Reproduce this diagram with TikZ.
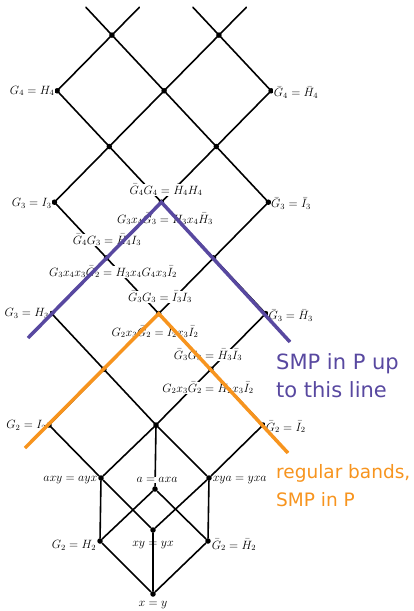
\documentclass[tikz,border=0pt]{standalone}
\usepackage{fontspec}
\newfontfamily\dejavu{DejaVu Sans}
\usetikzlibrary{calc}
\definecolor{smppurple}{RGB}{88,72,160}
\definecolor{smporange}{RGB}{247,148,30}
\begin{document}
\begin{tikzpicture}[x=1pt,y=-1pt,
  lat/.style={line width=1.6pt,line cap=round},
  dotn/.style={circle,fill=black,inner sep=0pt,minimum size=5.5pt},
  lab/.style={fill=white,inner sep=0.6pt,font=\fontsize{12}{14}\selectfont},
  labn/.style={inner sep=0.6pt,font=\fontsize{12}{14}\selectfont},
  band/.style={line width=3.5pt},
  note/.style={inner sep=0pt,align=left,font=\dejavu\fontsize{21}{28}\selectfont},
  noteb/.style={inner sep=0pt,align=left,font=\dejavu\fontsize{18.5}{28}\selectfont},
]
\useasboundingbox (0,0) rectangle (413,611);
% lattice grid coordinates
\foreach \i in {0,...,4}{
  \foreach \L in {0,...,8}{
    \coordinate (p\i\L) at ({156+53.5*(\i-2)+1.35*\L},{425-55.7*\L});
  }
}
% lattice edges
\foreach \i in {0,...,4}{
  \foreach \L in {0,...,6}{
    \pgfmathtruncatemacro\pp{mod(\i+\L,2)}
    \pgfmathtruncatemacro\nL{\L+1}
    \pgfmathtruncatemacro\nr{\i+1}
    \pgfmathtruncatemacro\nl{\i-1}
    \ifnum\pp=0
      \ifnum\i<4 \draw[lat] (p\i\L) -- (p\nr\nL); \fi
      \ifnum\i>0 \draw[lat] (p\i\L) -- (p\nl\nL); \fi
    \fi
  }
}
% stubs leaving the top
\coordinate (s1l) at ($(p17)!0.5!(p08)$);
\coordinate (s1r) at ($(p17)!0.5!(p28)$);
\coordinate (s3l) at ($(p37)!0.5!(p28)$);
\coordinate (s3r) at ($(p37)!0.5!(p48)$);
\draw[lat] (p17) -- (s1l) (p17) -- (s1r) (p37) -- (s3l) (p37) -- (s3r);
% bottom part
\node[dotn] (triv) at (153,594) {};
\node[dotn] (lz) at (100,541) {};
\node[dotn] (rz) at (208,541) {};
\node[dotn] (sl) at (153,530) {};
\node[dotn] (rb) at (155,489) {};
\node[dotn] (lnb) at (101,478) {};
\node[dotn] (rnb) at (209,478) {};
\draw[lat] (triv) -- (lz) (triv) -- (rz) (triv) -- (sl)
  (lz) -- (lnb) (lz) -- (rb) (rz) -- (rnb) (rz) -- (rb)
  (lnb) -- (sl) (rnb) -- (sl)
  (lnb) -- (p00) (lnb) -- (p20) (rnb) -- (p20) (rnb) -- (p40) (rb) -- (p20);
% dots on grid
\foreach \i/\L in {0/0,2/0,4/0,1/1,3/1,0/2,2/2,4/2,1/3,3/3,0/4,2/4,4/4,1/5,3/5,0/6,2/6,4/6,1/7,3/7}{
  \node[dotn] (d\i\L) at (p\i\L) {};
}
% labels
\node[lab,anchor=east] (l1) at ($(p06)+(-2,0)$) {$G_4 = H_4$};
\node[lab,anchor=west] (l2) at ($(p46)+(2,2)$) {$\bar G_4 = \bar H_4$};
\node[lab] (l3) at (166,190) {$\bar G_4G_4 = \bar H_4H_4$};
\node[lab,anchor=east] (l4) at ($(p04)+(-2,1)$) {$G_3 = I_3$};
\node[lab,anchor=west] (l5) at ($(p44)+(2,1)$) {$\bar G_3 = \bar I_3$};
\node[lab] (l6) at (165,219) {$G_3x_4\bar G_3 = H_3x_4\bar H_3$};
\node[lab] (l7) at (107,240) {$\bar G_4G_3 = \bar H_4I_3$};
\node[lab] (l8) at (113,272) {$G_3x_4x_3\bar G_2 = H_3x_4G_4x_3\bar I_2$};
\node[lab] (l9) at (160,297) {$\bar G_3G_3 = \bar I_3I_3$};
\node[lab,anchor=east] (l10) at ($(p02)+(-2,0)$) {$G_3 = H_3$};
\node[lab,anchor=west] (l11) at ($(p42)+(2,2)$) {$\bar G_3 = \bar H_3$};
\node[lab] (l12) at (155,332) {$G_2x_3\bar G_2 = I_2x_3\bar I_2$};
\node[lab] (l13) at (208,355) {$\bar G_3G_3 = \bar H_3\bar I_3$};
\node[lab] (l14) at (208,388) {$G_2x_3\bar G_2 = H_2x_3\bar I_2$};
\node[lab,anchor=east] (l15) at ($(p00)+(-2,0)$) {$G_2 = I_2$};
\node[lab,anchor=west] (l16) at ($(p40)+(2,2)$) {$\bar G_2 = \bar I_2$};
\node[lab,anchor=east] (l17) at ($(lnb)+(-3,2)$) {$axy = ayx$};
\node[lab] (l18) at (157,480) {$a = axa$};
\node[lab,anchor=west] (l19) at ($(rnb)+(3,2)$) {$xya = yxa$};
\node[lab,anchor=east] (l20) at ($(lz)+(-3,4)$) {$G_2 = H_2$};
\node[labn] (l21) at (153,545) {$xy = yx$};
\node[lab,anchor=west] (l22) at ($(rz)+(3,4)$) {$\bar G_2 = \bar H_2$};
\node[lab] (l23) at (153,605) {$x = y$};
% coloured boundaries
\coordinate (pu1) at (28,338);
\coordinate (pu2) at (290,342);
\coordinate (or1) at (25,448);
\coordinate (or2) at (288,453);
\draw[band,smppurple] (pu1) -- (d24.center) -- (pu2);
\draw[band,smporange] (or1) -- (d22.center) -- (or2);
\node[note,smppurple,anchor=west] (t1) at (276,376) {SMP in P up\\to this line};
\node[noteb,smporange,anchor=west] (t2) at (276,486) {regular bands,\\SMP in P};
\end{tikzpicture}
\end{document}
